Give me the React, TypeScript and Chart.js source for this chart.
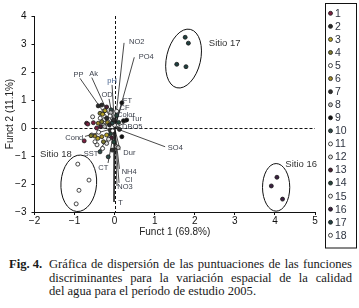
import React, { useEffect, useRef } from 'react';
import { Chart, registerables } from 'chart.js';

Chart.register(...registerables);

// ---------- DATA ----------
const SITE_NAMES = ['1', '2', '3', '4', '5', '6', '7', '8', '9', '10', '11', '12', '13', '14', '15', '16', '17', '18'];
const SITE_FILLS = ['#7b2040', '#2a2a2a', '#b5a22a', '#7d7a30', '#ffffff', '#a08a2a', '#303030', '#bdbdbd', '#111111',
  '#2e4a48', '#ffffff', '#e0e0e0', '#4a2033', '#23443a', '#f5f5f5', '#3b2040', '#1f3f40', '#ffffff'];

const SITE_X: number[][] = [
  [-0.53, -0.76, -0.67, -0.45],
  [-0.32, -0.41, -0.2, -0.13],
  [-0.24, -0.3, -0.42, -0.2],
  [-0.365, -0.32, -0.59, -0.28],
  [-0.265, -0.115, -0.3, -0.05],
  [-0.41, -0.49, -0.32, -0.18],
  [-0.03, -0.115, 0.12, -0.06],
  [0.05, 0.09, -0.1, -0.25],
  [0.22, 0.3, 0.18, 0.18],
  [-0.16, -0.365, -0.06, -0.09],
  [-0.57, -0.49, -0.4, -0.36],
  [-0.15, -0.2, -0.26, 0.0],
  [-0.7, -0.08, -0.35, -0.2],
  [0.05, -0.1, 0.1, -0.02],
  [-0.55, -0.44, -0.27, 0.05],
  [4.05, 3.91, 4.19],
  [1.76, 1.84, 1.55, 1.78],
  [-0.92, -0.64, -0.89, -0.96],
];
const SITE_Y: number[][] = [
  [0.19, -0.46, 0.14, 0.0],
  [0.82, 0.79, 0.35, 0.11],
  [0.62, 0.49, -0.37, -0.25],
  [0.525, 0.225, -0.275, -0.49],
  [0.61, 0.43, -0.73, -0.1],
  [0.17, -0.29, -0.31, 0.2],
  [0.29, -0.07, -0.05, -0.79],
  [-0.67, -0.7, 0.55, 0.05],
  [0.26, 0.29, 0.9, -0.31],
  [-1.03, -0.85, 0.18, 0.65],
  [-0.25, -0.49, -0.15, 0.35],
  [-0.4, -0.55, 0.3, 0.1],
  [0.17, -0.35, 0.05, 0.75],
  [0.45, -0.2, 0.2, -0.5],
  [0.4, -0.6, 0.1, 0.6],
  [-1.76, -2.07, -2.54],
  [3.24, 3.03, 2.275, 2.19],
  [-1.29, -1.86, -2.225, -2.71],
];

const VAR_NAMES = ['NO2', 'PO4', 'PP', 'Ak', 'pH', 'OD', 'FT', 'CF', 'Color', 'Tur', 'DBO5', 'SO4',
  'Cond', 'SST', 'CT', 'Dur', 'NH4', 'Cl', 'NO3', 'T'];
const VAR_X = [0.235, 0.49, -0.865, -0.57, -0.065, -0.14, 0.18, 0.11, 0.035, 0.335, 0.135, 1.26,
  -0.74, -0.39, -0.165, 0.135, 0.12, 0.11, 0.06, -0.015];
const VAR_Y = [3.04, 2.525, 1.775, 1.8, 1.54, 1.04, 0.86, 0.61, 0.39, 0.25, 0.036, -0.67,
  -0.3, -0.82, -1.25, -0.79, -1.46, -1.96, -2.07, -2.64];

const GROUP_NAMES = ['Sitio 16', 'Sitio 17', 'Sitio 18'];
const GROUP_CX = [4.03, 1.72, -0.895];
const GROUP_CY = [-2.12, 2.48, -1.975];
const GROUP_RX = [0.34, 0.425, 0.445];
const GROUP_RY = [0.85, 1.07, 1.01];
const GROUP_ANGLE = [0, 13, 4];
const GROUP_LABEL_X = [4.26, 2.35, -1.86];
const GROUP_LABEL_Y = [-1.29, 3.04, -0.94];

const X_MIN = -2, X_MAX = 5, Y_MIN = -3, Y_MAX = 4;
const X_TITLE = 'Funct 1 (69.8%)';
const Y_TITLE = 'Funct 2 (11.1%)';

// ---------- STYLE ----------
const SANS = '"Liberation Sans", Arial, Helvetica, sans-serif';
const SERIF = '"Liberation Serif", "Times New Roman", Times, serif';
const LABEL_STYLE: Record<string, { align: CanvasTextAlign; dx: number; dy: number; color?: string }> = {
  NO2: { align: 'left', dx: 5, dy: -1 },
  PO4: { align: 'left', dx: 4.4, dy: 0 },
  PP: { align: 'center', dx: -1.5, dy: -3.5 },
  Ak: { align: 'center', dx: 1.8, dy: -3.7 },
  pH: { align: 'center', dx: 0, dy: -4, color: '#46628e' },
  OD: { align: 'center', dx: -2, dy: -3.5 },
  FT: { align: 'left', dx: 1, dy: -3.3 },
  CF: { align: 'left', dx: 0.5, dy: -3 },
  Color: { align: 'left', dx: 1, dy: -2 },
  Tur: { align: 'left', dx: 3, dy: -2 },
  DBO5: { align: 'left', dx: 2, dy: 0.3 },
  SO4: { align: 'left', dx: 2.7, dy: 1 },
  Cond: { align: 'right', dx: -1.7, dy: 1.2 },
  SST: { align: 'right', dx: -0.7, dy: 3 },
  CT: { align: 'right', dx: 0.3, dy: 5 },
  Dur: { align: 'left', dx: 3.3, dy: 2.7 },
  NH4: { align: 'left', dx: 2.2, dy: 3.3 },
  Cl: { align: 'left', dx: 6, dy: -2.7 },
  NO3: { align: 'left', dx: 0.3, dy: 1.3 },
  T: { align: 'left', dx: 4.3, dy: 1.3 },
};

const minusFmt = (v: number | string) => {
  const n = Number(v);
  return n < 0 ? '\u2212' + Math.abs(n) : String(n);
};

const overlayPlugin = {
  id: 'overlay',
  beforeDatasetsDraw(chart: any) {
    const { ctx, chartArea, scales } = chart;
    const x0 = scales.x.getPixelForValue(0);
    const y0 = scales.y.getPixelForValue(0);
    ctx.save();
    ctx.strokeStyle = '#111';
    ctx.lineWidth = 1;
    ctx.setLineDash([3, 2]);
    ctx.beginPath();
    ctx.moveTo(chartArea.left, Math.round(y0) + 0.5);
    ctx.lineTo(chartArea.right, Math.round(y0) + 0.5);
    ctx.moveTo(Math.round(x0) + 0.5, chartArea.top);
    ctx.lineTo(Math.round(x0) + 0.5, chartArea.bottom);
    ctx.stroke();
    ctx.restore();
  },
  afterDatasetsDraw(chart: any) {
    const { ctx, scales } = chart;
    const sx = scales.x, sy = scales.y;
    const pxPerX = Math.abs(sx.getPixelForValue(1) - sx.getPixelForValue(0));
    const pxPerY = Math.abs(sy.getPixelForValue(1) - sy.getPixelForValue(0));
    ctx.save();
    ctx.strokeStyle = '#111';
    ctx.lineWidth = 1;
    GROUP_NAMES.forEach((name, i) => {
      ctx.beginPath();
      ctx.ellipse(sx.getPixelForValue(GROUP_CX[i]), sy.getPixelForValue(GROUP_CY[i]),
        GROUP_RX[i] * pxPerX, GROUP_RY[i] * pxPerY, (GROUP_ANGLE[i] * Math.PI) / 180, 0, Math.PI * 2);
      ctx.stroke();
      ctx.font = `9.5px ${SANS}`;
      ctx.fillStyle = '#333';
      ctx.textAlign = 'left';
      ctx.textBaseline = 'middle';
      ctx.fillText(name, sx.getPixelForValue(GROUP_LABEL_X[i]), sy.getPixelForValue(GROUP_LABEL_Y[i]));
    });
    ctx.font = `7.5px ${SANS}`;
    ctx.textBaseline = 'middle';
    VAR_NAMES.forEach((name, i) => {
      const st = LABEL_STYLE[name];
      ctx.fillStyle = st.color || '#3a3f4a';
      ctx.textAlign = st.align;
      ctx.fillText(name, sx.getPixelForValue(VAR_X[i]) + st.dx, sy.getPixelForValue(VAR_Y[i]) + st.dy);
    });
    ctx.restore();
  },
  afterDraw(chart: any) {
    const { ctx, chartArea } = chart;
    const left = chartArea.right + 10;
    const top = 3;
    ctx.save();
    ctx.strokeStyle = '#111';
    ctx.lineWidth = 1;
    ctx.strokeRect(Math.round(left) + 0.5, top + 0.5, 31, 244.5);
    ctx.font = `10.5px ${SANS}`;
    ctx.textAlign = 'left';
    ctx.textBaseline = 'middle';
    let k = 0;
    chart.data.datasets.forEach((ds: any) => {
      if (ds.isSite !== true) return;
      const cy = top + 10.3 + k * 13.06;
      const cx = left + 5.5;
      ctx.beginPath();
      ctx.arc(cx, cy, 2, 0, Math.PI * 2);
      ctx.fillStyle = ds.pointBackgroundColor;
      ctx.fill();
      ctx.lineWidth = 0.8;
      ctx.strokeStyle = '#1a1a1a';
      ctx.stroke();
      ctx.fillStyle = '#2d3340';
      ctx.fillText(ds.label, left + 10, cy + 0.5);
      k++;
    });
    ctx.restore();
  },
};

export default function App() {
  const ref = useRef<HTMLCanvasElement>(null);

  useEffect(() => {
    const canvas = ref.current;
    if (!canvas) return;
    const siteSets = SITE_NAMES.map((name, i) => ({
      label: name,
      isSite: true,
      data: SITE_X[i].map((x, j) => ({ x, y: SITE_Y[i][j] })),
      pointRadius: 2,
      pointBorderWidth: 0.8,
      pointBackgroundColor: SITE_FILLS[i],
      pointBorderColor: '#1a1a1a',
      showLine: false,
      order: 0,
    }));
    const vectorSets = VAR_NAMES.map((name, i) => ({
      label: name,
      isSite: false,
      data: [{ x: 0, y: 0 }, { x: VAR_X[i], y: VAR_Y[i] }],
      showLine: true,
      borderColor: '#1a1a1a',
      borderWidth: 0.8,
      pointRadius: 0,
      order: 1,
    }));
    const tickFont = { family: SANS, size: 10 };
    const chart = new Chart(canvas, {
      type: 'scatter',
      data: { datasets: [...siteSets, ...vectorSets] as any },
      options: {
        animation: false,
        responsive: false,
        devicePixelRatio: 1,
        events: [],
        layout: { padding: { left: 0, right: 44, top: 16, bottom: 10 } },
        plugins: { legend: { display: false }, tooltip: { enabled: false } },
        scales: {
          x: {
            type: 'linear',
            min: X_MIN,
            max: X_MAX,
            ticks: { stepSize: 1, font: tickFont, color: '#111', padding: 0, callback: (v: any) => minusFmt(v) },
            grid: { display: true, drawOnChartArea: false, drawTicks: true, tickLength: 3, color: '#111' },
            border: { display: true, color: '#111', width: 1 },
            title: { display: true, text: X_TITLE, font: { family: SANS, size: 10 }, color: '#222', padding: { top: 0, bottom: 2 } },
            afterFit: (s: any) => { s.height = 28; },
          },
          y: {
            type: 'linear',
            min: Y_MIN,
            max: Y_MAX,
            ticks: { stepSize: 1, font: tickFont, color: '#111', padding: 5, callback: (v: any) => minusFmt(v) },
            grid: { display: true, drawOnChartArea: false, drawTicks: true, tickLength: 3, color: '#111' },
            border: { display: true, color: '#111', width: 1 },
            title: { display: true, text: Y_TITLE, font: { family: SANS, size: 10 }, color: '#222', padding: { top: 4, bottom: 0 } },
            afterFit: (s: any) => { s.width = 34.5; },
          },
        },
      } as any,
      plugins: [overlayPlugin],
    });
    return () => chart.destroy();
  }, []);

  const lineStyle: React.CSSProperties = {
    position: 'absolute',
    whiteSpace: 'nowrap',
    textAlign: 'justify',
    textAlignLast: 'justify' as any,
    height: 13.5,
  };

  return (
    <div style={{ position: 'absolute', left: 0, top: 0, width: 359, height: 308, background: '#fff', overflow: 'hidden' }}>
      <canvas ref={ref} width={359} height={250} style={{ position: 'absolute', left: 0, top: 0, display: 'block' }} />
      <div style={{ position: 'absolute', left: 0, top: 258, width: 359, fontFamily: SERIF, fontSize: 12.6, lineHeight: '13.5px', color: '#1a1a1a' }}>
        <div style={{ ...lineStyle, left: 9, top: 0, width: 343, whiteSpace: 'normal' }}>
          <span style={{ display: 'inline-block', width: 40, fontWeight: 'bold', textAlignLast: 'left' as any }}>Fig. 4.</span>Gráfica de dispersión de las puntuaciones de las funciones
        </div>
        <div style={{ ...lineStyle, left: 49, top: 13.5, width: 303, whiteSpace: 'normal' }}>
          discriminantes para la variación espacial de la calidad
        </div>
        <div style={{ ...lineStyle, left: 49, top: 27, width: 303, textAlign: 'left', textAlignLast: 'left' as any }}>
          del agua para el período de estudio 2005.
        </div>
      </div>
    </div>
  );
}
